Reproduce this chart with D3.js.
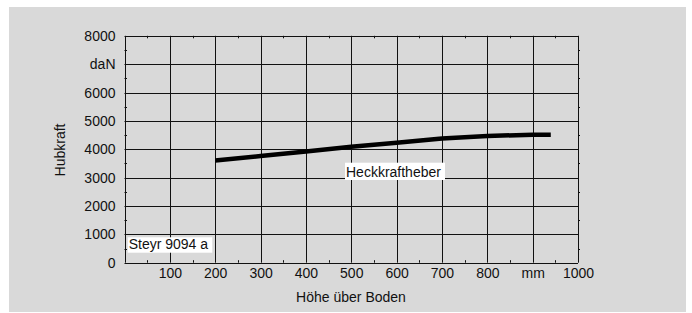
<!DOCTYPE html>
<html>
<head>
<meta charset="utf-8">
<script src="https://cdn.jsdelivr.net/npm/d3@7"></script>
<style>
  body { margin: 0; background: #fff; }
  svg text { font-family: "Liberation Sans", Arial, sans-serif; fill: #111; }
</style>
</head>
<body>
<svg id="chart" width="692" height="313"></svg>
<script>
// data
var hoehe = [200, 300, 400, 500, 600, 700, 800, 900, 940];
var hubkraft = [3600, 3760, 3920, 4090, 4230, 4380, 4470, 4510, 4515];
var xTicks = [100, 200, 300, 400, 500, 600, 700, 800, 900, 1000];
var xTickText = ["100", "200", "300", "400", "500", "600", "700", "800", "mm", "1000"];
var yTicks = [0, 1000, 2000, 3000, 4000, 5000, 6000, 7000, 8000];
var yTickText = ["0", "1000", "2000", "3000", "4000", "5000", "6000", "daN", "8000"];

var svg = d3.select("#chart");

svg.append("rect")
  .attr("x", 9).attr("y", 7)
  .attr("width", 677).attr("height", 305)
  .attr("fill", "#d9d9d9");

var margin = {left: 124.5, top: 35.8, right: 578, bottom: 262.7};

var x = d3.scaleLinear().domain([0, 1000]).range([margin.left, margin.right]);
var y = d3.scaleLinear().domain([0, 8000]).range([margin.bottom, margin.top]);

// grid
var grid = svg.append("g").attr("stroke", "#111").attr("stroke-width", 1);
grid.selectAll(".vx")
  .data(xTicks)
  .enter().append("line")
    .attr("x1", function(d) { return Math.round(x(d)) + 0.5; })
    .attr("x2", function(d) { return Math.round(x(d)) + 0.5; })
    .attr("y1", y(8000)).attr("y2", y(0));
grid.selectAll(".hy")
  .data(yTicks)
  .enter().append("line")
    .attr("y1", function(d) { return Math.round(y(d)) + 0.5; })
    .attr("y2", function(d) { return Math.round(y(d)) + 0.5; })
    .attr("x1", x(0)).attr("x2", x(1000));
grid.append("line")
  .attr("x1", Math.round(x(0)) + 0.5).attr("x2", Math.round(x(0)) + 0.5)
  .attr("y1", y(8000)).attr("y2", y(0));

// minor ticks at the half steps
var xMinor = d3.range(50, 1000, 100);
var yMinor = d3.range(500, 8000, 1000);
var minor = svg.append("g").attr("stroke", "#111").attr("stroke-width", 1);
xMinor.forEach(function(d) {
  var px = Math.round(x(d)) + 0.5;
  minor.append("line").attr("x1", px).attr("x2", px).attr("y1", y(0)).attr("y2", y(0) - 2.5);
  minor.append("line").attr("x1", px).attr("x2", px).attr("y1", y(8000)).attr("y2", y(8000) + 2.5);
});
yMinor.forEach(function(d) {
  var py = Math.round(y(d)) + 0.5;
  minor.append("line").attr("y1", py).attr("y2", py).attr("x1", x(0)).attr("x2", x(0) + 2.5);
  minor.append("line").attr("y1", py).attr("y2", py).attr("x1", x(1000)).attr("x2", x(1000) + 2);
});

// axes (labels only)
var xAxis = d3.axisBottom(x)
  .tickValues(xTicks)
  .tickSize(0)
  .tickPadding(0)
  .tickFormat(function(d, i) { return xTickText[i]; });
var gx = svg.append("g")
  .attr("transform", "translate(0," + 268 + ")")
  .call(xAxis);
gx.select(".domain").remove();
gx.selectAll("text").attr("font-size", 14).attr("dy", "0.71em")
  .style("font-family", "'Liberation Sans', Arial, sans-serif").attr("fill", "#111");

var yAxis = d3.axisLeft(y)
  .tickValues(yTicks)
  .tickSize(0)
  .tickPadding(0)
  .tickFormat(function(d, i) { return yTickText[i]; });
var gy = svg.append("g")
  .attr("transform", "translate(" + 115.5 + ",0)")
  .call(yAxis);
gy.select(".domain").remove();
gy.selectAll("text").attr("font-size", 14)
  .style("font-family", "'Liberation Sans', Arial, sans-serif").attr("fill", "#111");

// axis titles
svg.append("text")
  .attr("x", 351).attr("y", 302)
  .attr("text-anchor", "middle")
  .attr("font-size", 14)
  .text("Höhe über Boden");

svg.append("text")
  .attr("transform", "translate(65,150) rotate(-90)")
  .attr("text-anchor", "middle")
  .attr("font-size", 14)
  .text("Hubkraft");

// curve
var line = d3.line()
  .x(function(d, i) { return x(hoehe[i]); })
  .y(function(d) { return y(d); });

svg.append("path")
  .datum(hubkraft)
  .attr("fill", "none")
  .attr("stroke", "#000")
  .attr("stroke-width", 4.5)
  .attr("d", line);

// labels with white boxes
function boxLabel(txt, bx, by, bw, bh) {
  svg.append("rect")
    .attr("x", bx).attr("y", by).attr("width", bw).attr("height", bh)
    .attr("fill", "#fff");
  svg.append("text")
    .attr("x", bx + 1).attr("y", by + bh - 3.5)
    .attr("font-size", 14)
    .text(txt);
}
boxLabel("Heckkraftheber", 345, 162.7, 100, 17.3);
boxLabel("Steyr 9094 a", 127.7, 237.3, 84.6, 15.4);
</script>
</body>
</html>
